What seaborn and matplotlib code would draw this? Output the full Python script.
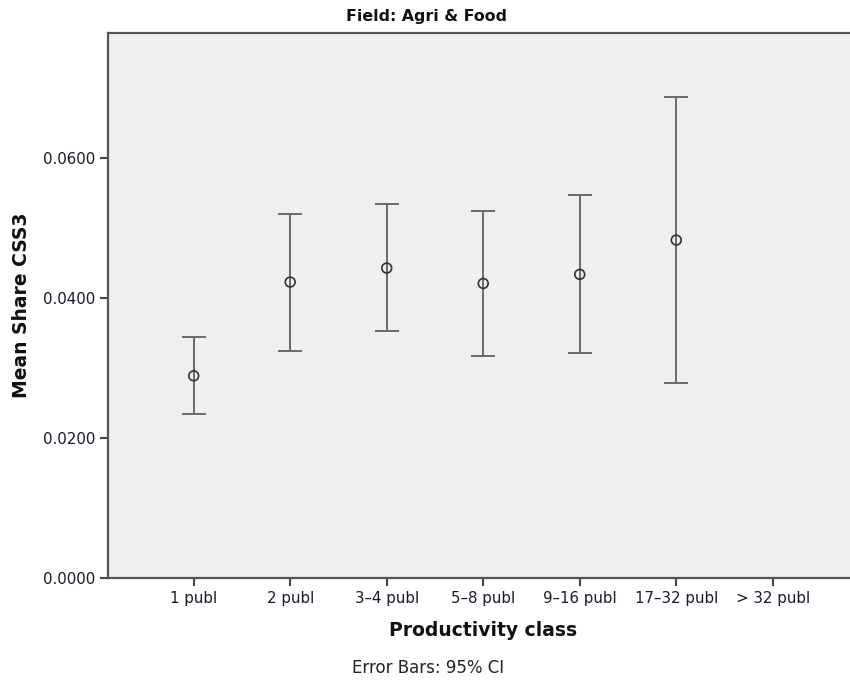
import numpy as np
import pandas as pd
import matplotlib
matplotlib.use("Agg")
import matplotlib.pyplot as plt
import seaborn as sns

# values (mean and 95% CI bounds)
classes = ["1 publ", "2 publ", "3-4 publ", "5-8 publ", "9-16 publ", "17-32 publ", "> 32 publ"]
tick_labels = ["1 publ", "2 publ", "3\u20134 publ", "5\u20138 publ", "9\u201316 publ", "17\u201332 publ", "> 32 publ"]
means = [0.0289, 0.0423, 0.0443, 0.0421, 0.0434, 0.0483, np.nan]
ci_low = [0.0234, 0.0324, 0.0353, 0.0317, 0.0321, 0.0279, np.nan]
ci_high = [0.0344, 0.0521, 0.0534, 0.0524, 0.0547, 0.0687, np.nan]
y_ticks = [0.0, 0.02, 0.04, 0.06]

df = pd.DataFrame({"cls": classes, "mean": means, "lo": ci_low, "hi": ci_high})

sns.set_style("white")
plt.rcParams["font.family"] = ["DejaVu Sans"]

fig = plt.figure(figsize=(8.5, 6.84), dpi=100)
ax = fig.add_axes([108 / 850, 1 - 578 / 684, 1.02 - 108 / 850, (578 - 33) / 684])
ax.set_facecolor("#efefef")

pos = np.arange(len(classes))
df["x"] = pos
shown = df.dropna()

# error bars (95% CI)
ax.errorbar(shown["x"], shown["mean"],
            yerr=[shown["mean"] - shown["lo"], shown["hi"] - shown["mean"]],
            fmt="none", ecolor="#6a6a6a", elinewidth=1.4, capsize=8.7, capthick=1.4, zorder=2)

# mean markers
sns.scatterplot(data=shown, x="x", y="mean", ax=ax, marker="o", s=50,
                facecolors="none", edgecolor="#333333", linewidth=1.2, zorder=3)

ax.set_xlim(-0.888, 6.80 + 0.02 * 850 / 96.5)
ax.set_ylim(0, 0.0779)
ax.set_xticks(pos)
ax.set_xticklabels(tick_labels, fontsize=10.8, color="#1a1a2a")
ax.set_yticks(y_ticks)
ax.set_yticklabels([f"{v:.4f}" for v in y_ticks], fontsize=10.8, color="#1a1a2a")
ax.tick_params(axis="both", direction="out", length=6, width=1.5, color="#444444",
               left=True, bottom=True, pad=3)
ax.set_xlabel("")
ax.set_ylabel("")

for side in ["left", "top", "bottom"]:
    ax.spines[side].set_visible(True)
    ax.spines[side].set_color("#555555")
    ax.spines[side].set_linewidth(1.6)
ax.spines["right"].set_visible(False)

fig.text(427 / 850, 1 - 17 / 684, "Field: Agri & Food", ha="center", va="center",
         fontsize=11.4, fontweight="bold", color="#111111")
fig.text(483 / 850, 1 - 630 / 684, "Productivity class", ha="center", va="center",
         fontsize=13.5, fontweight="bold", color="#111111")
fig.text(22 / 850, 1 - 305 / 684, "Mean Share CSS3", ha="center", va="center",
         rotation=90, fontsize=13.5, fontweight="bold", color="#111111")
fig.text(428 / 850, 1 - 668 / 684, "Error Bars: 95% CI", ha="center", va="center",
         fontsize=12, color="#222222")

fig.savefig("out.png", dpi=100)
